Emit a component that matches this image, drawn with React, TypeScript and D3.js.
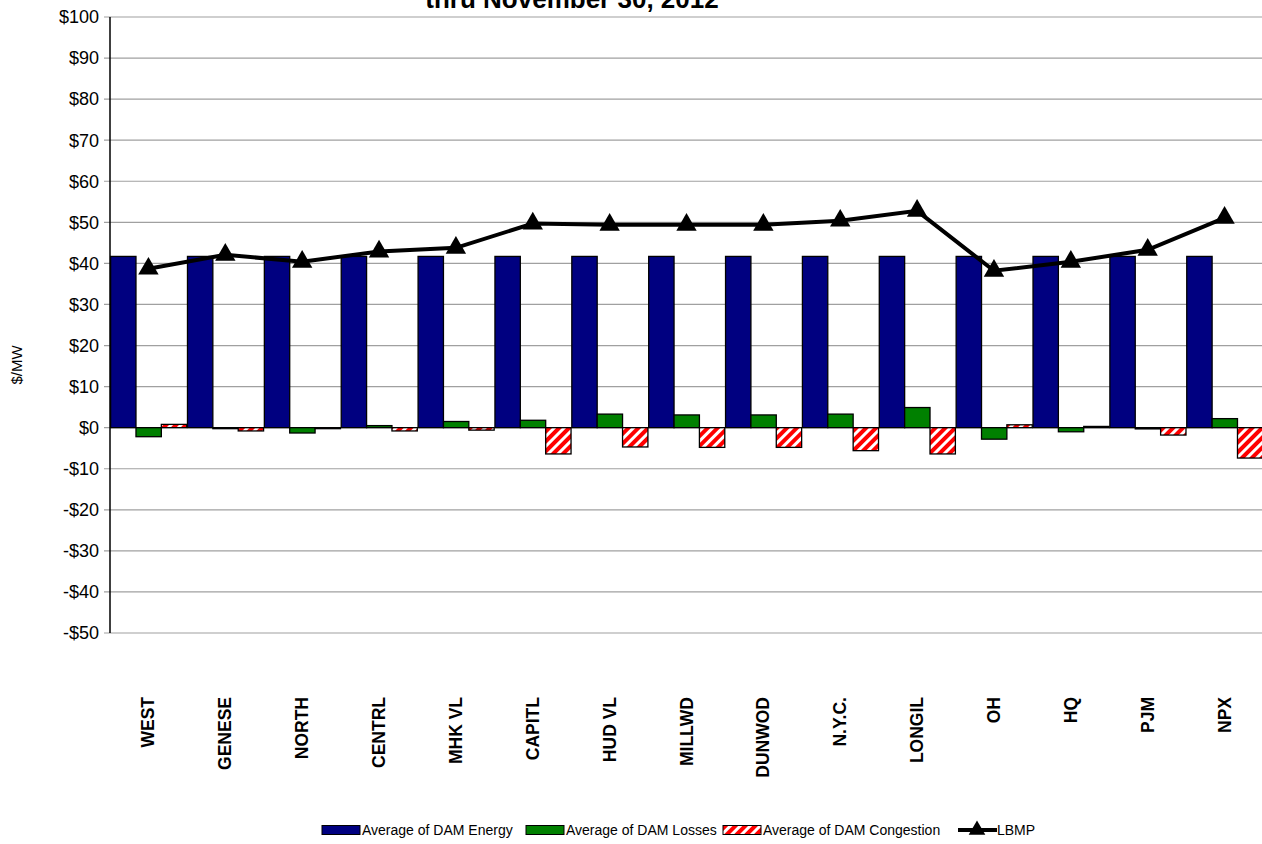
import React, { useRef, useEffect } from 'react';
import * as d3 from 'd3';

const zones = ['WEST', 'GENESE', 'NORTH', 'CENTRL', 'MHK VL', 'CAPITL', 'HUD VL', 'MILLWD', 'DUNWOD', 'N.Y.C.', 'LONGIL', 'OH', 'HQ', 'PJM', 'NPX'];
const energy = [41.7, 41.7, 41.7, 41.7, 41.7, 41.7, 41.7, 41.7, 41.7, 41.7, 41.7, 41.7, 41.7, 41.7, 41.7];
const losses = [-2.2, -0.2, -1.3, 0.5, 1.5, 1.8, 3.3, 3.1, 3.1, 3.3, 4.9, -2.8, -1.0, -0.3, 2.2];
const congestion = [0.8, -0.8, 0.0, -0.8, -0.6, -6.4, -4.7, -4.8, -4.8, -5.6, -6.4, 0.7, 0.3, -1.8, -7.4];
const lbmp = [38.7, 42.1, 40.4, 42.9, 43.8, 49.7, 49.4, 49.4, 49.4, 50.4, 52.8, 38.2, 40.4, 43.3, 51.1];
const yTicks = [100, 90, 80, 70, 60, 50, 40, 30, 20, 10, 0, -10, -20, -30, -40, -50];

const W = 1262;
const H = 844;

const App = () => {
  const svgRef = useRef<SVGSVGElement>(null);

  useEffect(() => {
    const svg = d3.select(svgRef.current);
    svg.selectAll('*').remove();

    const left = 110, right = 1263, top = 17, bottom = 633;
    const font = 'Arial, "Liberation Sans", sans-serif';

    // hatch for congestion
    const defs = svg.append('defs');
    const pat = defs.append('pattern')
      .attr('id', 'hatch')
      .attr('patternUnits', 'userSpaceOnUse')
      .attr('width', 7)
      .attr('height', 7)
      .attr('patternTransform', 'rotate(45)');
    pat.append('rect').attr('width', 7).attr('height', 7).attr('fill', '#ff0000');
    pat.append('rect').attr('width', 3).attr('height', 7).attr('fill', '#ffffff');

    const x = d3.scaleBand().domain(zones).range([left, right]).padding(0);
    const y = d3.scaleLinear().domain([-50, 100]).range([bottom, top]);
    const bw = x.bandwidth();
    const barW = bw * 0.33;
    const off = bw * 0.008;

    // gridlines + ticks
    const grid = svg.append('g');
    yTicks.forEach(t => {
      grid.append('line')
        .attr('x1', left - 6).attr('x2', right)
        .attr('y1', y(t)).attr('y2', y(t))
        .attr('stroke', '#a0a0a0').attr('stroke-width', 1.2);
      grid.append('text')
        .attr('x', left - 11)
        .attr('y', y(t))
        .attr('dy', '0.35em')
        .attr('text-anchor', 'end')
        .attr('font-family', font)
        .attr('font-size', '18px')
        .text(t < 0 ? `-$${-t}` : `$${t}`);
    });

    // bars
    const series = [
      { vals: energy, fill: '#000080', i: 0 },
      { vals: losses, fill: '#008000', i: 1 },
      { vals: congestion, fill: 'url(#hatch)', i: 2 },
    ];
    series.forEach(s => {
      svg.append('g')
        .selectAll('rect')
        .data(s.vals)
        .enter()
        .append('rect')
        .attr('x', (d, j) => (x(zones[j]) as number) + off + s.i * barW)
        .attr('y', d => y(Math.max(0, d)))
        .attr('width', barW)
        .attr('height', d => Math.max(1, Math.abs(y(d) - y(0))))
        .attr('fill', s.fill)
        .attr('stroke', '#000')
        .attr('stroke-width', 1.3);
    });

    // left axis
    svg.append('line')
      .attr('x1', left).attr('x2', left)
      .attr('y1', top).attr('y2', bottom)
      .attr('stroke', '#000').attr('stroke-width', 1.5);

    // LBMP line
    const cx = (j: number) => (x(zones[j]) as number) + bw / 2;
    const line = d3.line<number>()
      .x((d, j) => cx(j))
      .y(d => y(d));
    svg.append('path')
      .datum(lbmp)
      .attr('d', line)
      .attr('fill', 'none')
      .attr('stroke', '#000')
      .attr('stroke-width', 4);
    const tri = d3.symbol().type(d3.symbolTriangle).size(180);
    svg.append('g')
      .selectAll('path')
      .data(lbmp)
      .enter()
      .append('path')
      .attr('d', tri)
      .attr('transform', (d, j) => `translate(${cx(j)},${y(d)})`)
      .attr('fill', '#000');

    // category labels
    zones.forEach((z, j) => {
      svg.append('text')
        .attr('transform', `translate(${cx(j) + 6},${697}) rotate(-90)`)
        .attr('text-anchor', 'end')
        .attr('font-family', font)
        .attr('font-weight', 'bold')
        .attr('font-size', '17.5px')
        .text(z);
    });

    // y title
    svg.append('text')
      .attr('transform', 'translate(22,365) rotate(-90)')
      .attr('text-anchor', 'middle')
      .attr('font-family', font)
      .attr('font-size', '15px')
      .text('$/MW');

    // title (first line is off the top)
    svg.append('text')
      .attr('x', 572)
      .attr('y', -22)
      .attr('text-anchor', 'middle')
      .attr('font-family', font)
      .attr('font-weight', 'bold')
      .attr('font-size', '26px')
      .text('Average DAM LBMP Components, January 1');
    svg.append('text')
      .attr('x', 572)
      .attr('y', 8)
      .attr('text-anchor', 'middle')
      .attr('font-family', font)
      .attr('font-weight', 'bold')
      .attr('font-size', '26px')
      .text('thru November 30, 2012');

    // legend
    const ly = 830;
    const legend = svg.append('g').attr('font-family', font).attr('font-size', '14px');
    const items = [
      { label: 'Average of DAM Energy', fill: '#000080', x0: 322 },
      { label: 'Average of DAM Losses', fill: '#008000', x0: 526 },
      { label: 'Average of DAM Congestion', fill: 'url(#hatch)', x0: 723 },
    ];
    items.forEach(it => {
      legend.append('rect')
        .attr('x', it.x0).attr('y', ly - 4.5)
        .attr('width', 38).attr('height', 9)
        .attr('fill', it.fill)
        .attr('stroke', '#000').attr('stroke-width', 1);
      legend.append('text')
        .attr('x', it.x0 + 40).attr('y', ly).attr('dy', '0.35em')
        .text(it.label);
    });
    legend.append('line')
      .attr('x1', 958).attr('x2', 997)
      .attr('y1', ly).attr('y2', ly)
      .attr('stroke', '#000').attr('stroke-width', 4);
    legend.append('path')
      .attr('d', d3.symbol().type(d3.symbolTriangle).size(120)())
      .attr('transform', `translate(977,${ly})`)
      .attr('fill', '#000');
    legend.append('text')
      .attr('x', 997).attr('y', ly).attr('dy', '0.35em')
      .text('LBMP');
  }, []);

  return (
    <svg
      ref={svgRef}
      width={W}
      height={H}
      style={{ position: 'absolute', left: 0, top: 0, background: '#fff' }}
    />
  );
};

export default App;
